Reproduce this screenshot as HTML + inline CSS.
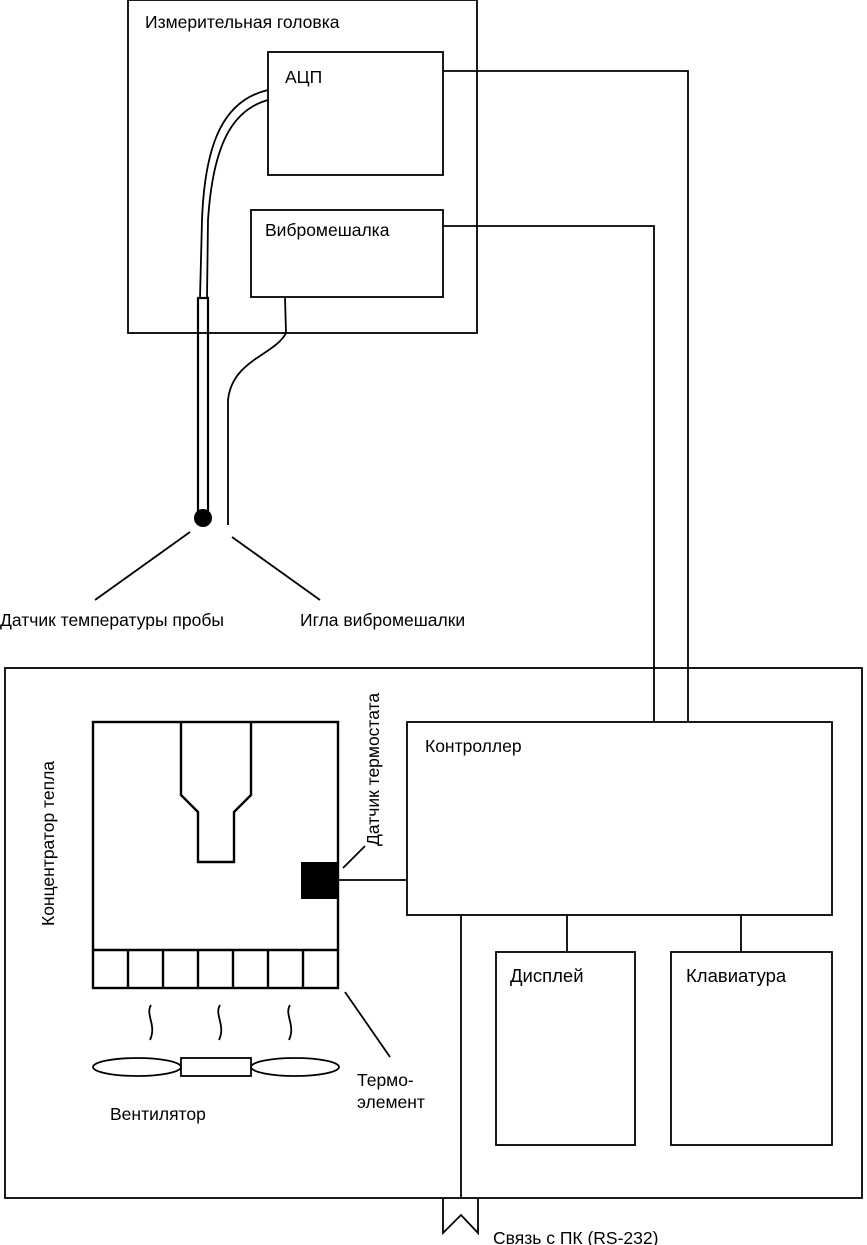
<!DOCTYPE html>
<html><head><meta charset="utf-8"><style>
html,body{margin:0;padding:0;background:#fff}
svg{display:block}
text{font-family:"Liberation Sans",sans-serif;font-size:17.5px;fill:#000}
</style></head><body>
<svg width="867" height="1245" viewBox="0 0 867 1245" xmlns="http://www.w3.org/2000/svg">
<g fill="none" stroke="#000" stroke-width="1.8">
<rect x="128" y="0" width="349" height="333"/>
<rect x="268" y="52" width="175" height="123"/>
<rect x="251" y="210" width="192" height="87"/>
<path d="M268 90 C225 100 205 140 202 220 L200 298"/>
<path d="M268 100 C232 110 213 145 208 220 L207 298"/>
<rect x="198" y="298" width="10" height="215" stroke-width="2.2"/>
<path d="M285 297 L286 333 C275 355 232 360 228 400 L228 525"/>
<path d="M190 532 L95 600"/>
<path d="M232 537 L320 600"/>
<path d="M443 71 L688 71 L688 722"/>
<path d="M443 226 L654 226 L654 722"/>
<rect x="5" y="668" width="857" height="530"/>
<rect x="407" y="722" width="425" height="193"/>
<rect x="496" y="952" width="139" height="193"/>
<rect x="671" y="952" width="161" height="193"/>
<path d="M567 915 L567 952 M741 915 L741 952 M461 915 L461 1198"/>
<path d="M443 1198 L443 1233 L461 1215 L478 1233 L478 1198"/>
<rect x="93" y="722" width="245" height="266" stroke-width="2.4"/>
<path d="M93 950 L338 950 M128 950 L128 988 M163 950 L163 988 M198 950 L198 988 M233 950 L233 988 M268 950 L268 988 M303 950 L303 988" stroke-width="2.4"/>
<path d="M181 722 L181 795 L198 812 L198 862 L234 862 L234 812 L251 795 L251 722" stroke-width="2.4"/>
<path d="M338 880 L407 880"/>
<path d="M343 868 L365 846"/>
<path d="M345 992 L390 1057"/>
<path d="M151 1005 C145 1015 157 1025 150 1040 M220 1005 C214 1015 226 1025 219 1040 M290 1005 C284 1015 296 1025 289 1040"/>
<ellipse cx="137" cy="1067" rx="44" ry="9"/>
<ellipse cx="295" cy="1067" rx="44" ry="9"/>
<rect x="181" y="1058" width="70" height="18" fill="#fff"/>
</g>
<rect x="301" y="862" width="37" height="37" fill="#000"/>
<circle cx="203" cy="518" r="9" fill="#000"/>
<text x="145" y="28">Измерительная головка</text>
<text x="285" y="83">АЦП</text>
<text x="265" y="236">Вибромешалка</text>
<text x="0" y="626">Датчик температуры пробы</text>
<text x="300" y="626">Игла вибромешалки</text>
<text x="425" y="752">Контроллер</text>
<text x="510" y="982" style="font-size:18.5px">Дисплей</text>
<text x="686" y="982" style="font-size:18.5px">Клавиатура</text>
<text x="357" y="1086">Термо-</text>
<text x="357" y="1108">элемент</text>
<text x="110" y="1120">Вентилятор</text>
<text x="493" y="1244">Связь с ПК (RS-232)</text>
<text transform="translate(54,926) rotate(-90)">Концентратор тепла</text>
<text transform="translate(379,846) rotate(-90)">Датчик термостата</text>
</svg>
</body></html>
